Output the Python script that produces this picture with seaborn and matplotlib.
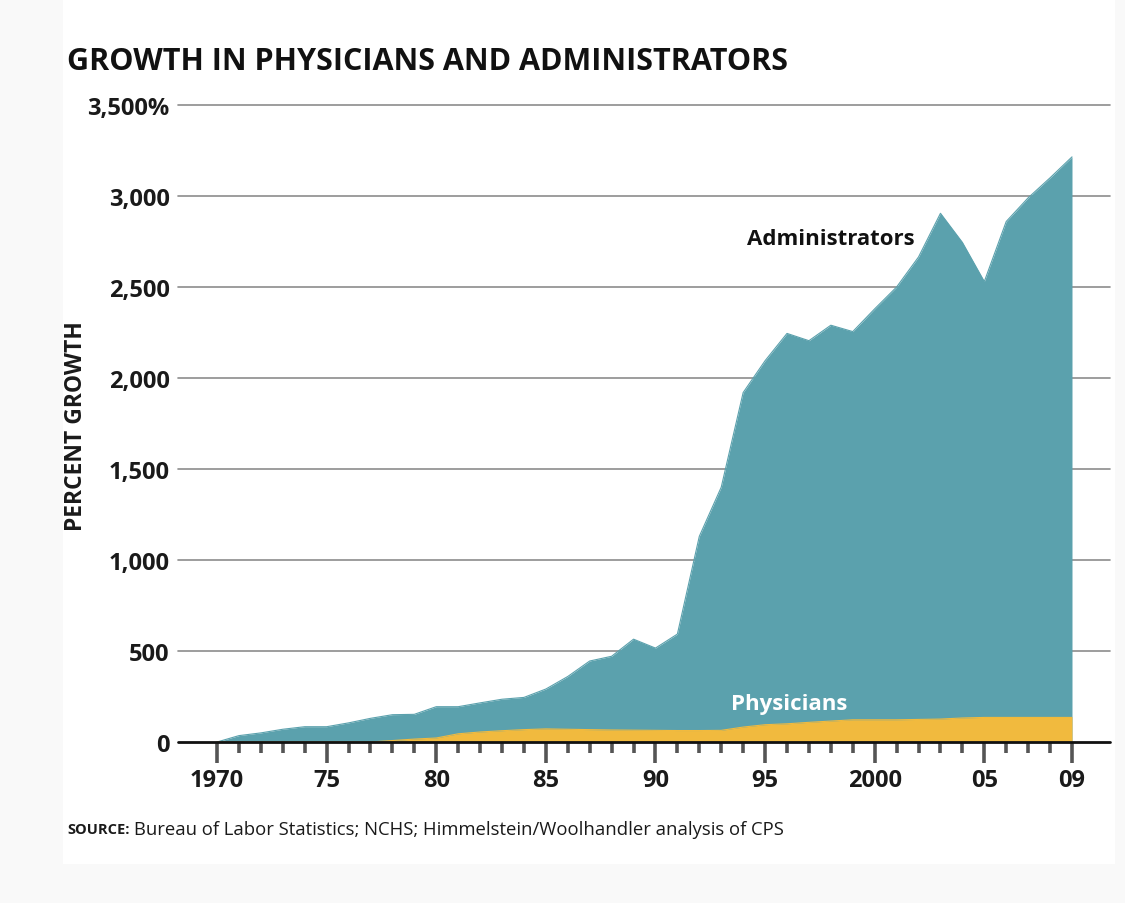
import matplotlib
matplotlib.use("Agg")
import matplotlib.pyplot as plt
import seaborn as sns
import pandas as pd
import numpy as np
from matplotlib.patches import Rectangle
from matplotlib.ticker import FixedLocator

# data (percent growth since 1970)
years = list(range(1970, 2010))
administrators = [0, 35, 50, 70, 84, 84, 105, 130, 150, 152,
                  194, 194, 215, 235, 245, 291, 360, 445, 471, 565,
                  516, 593, 1130, 1400, 1920, 2095, 2245, 2205, 2290, 2255,
                  2380, 2500, 2665, 2905, 2745, 2530, 2860, 2990, 3100, 3215]
physicians = [0, 0, 0, 0, 0, 0, 0, 0, 8, 16,
              22, 45, 55, 62, 68, 72, 70, 68, 66, 65,
              64, 63, 63, 64, 82, 95, 100, 108, 115, 122,
              122, 122, 124, 126, 132, 135, 135, 135, 135, 135]
ytick_vals = [0, 500, 1000, 1500, 2000, 2500, 3000, 3500]
ytick_labels = ["0", "500", "1,000", "1,500", "2,000", "2,500", "3,000", "3,500%"]
xtick_vals = [1970, 1975, 1980, 1985, 1990, 1995, 2000, 2005, 2009]
xtick_labels = ["1970", "75", "80", "85", "90", "95", "2000", "05", "09"]

df = pd.DataFrame({"year": years, "Administrators": administrators, "Physicians": physicians})

TEAL = "#5ba1ad"
GOLD = "#f1ba3e"

sns.set_style("white")
plt.rcParams["font.family"] = ["Open Sans", "DejaVu Sans"]

fig = plt.figure(figsize=(11.25, 9.04), dpi=100)
fig.patch.set_facecolor("#f9f9f9")
fig.patches.append(Rectangle((63 / 1125, 1 - 865 / 904), (1115 - 63) / 1125, 865 / 904,
                             transform=fig.transFigure, facecolor="white", edgecolor="none", zorder=-10))

ax = fig.add_axes([178 / 1125, 1 - 743 / 904, (1110 - 178) / 1125, (743 - 106) / 904])
ax.set_facecolor("none")

# outlines via seaborn, then fill the areas
sns.lineplot(data=df, x="year", y="Administrators", ax=ax, color=TEAL, lw=0.8, zorder=3)
sns.lineplot(data=df, x="year", y="Physicians", ax=ax, color=GOLD, lw=0.8, zorder=4)
ax.fill_between(df["year"], 0, df["Administrators"], color=TEAL, lw=0, zorder=3)
ax.fill_between(df["year"], 0, df["Physicians"], color=GOLD, lw=0, zorder=4)

ax.set_xlim(1970 - 39 / 21.92, 2009 + 38 / 21.92)
ax.set_ylim(0, 3500)

for v in ytick_vals[1:]:
    ax.axhline(v, color="#8c8c8c", lw=1.2, zorder=1, clip_on=False)
ax.axhline(0, color="#111111", lw=2, zorder=6, clip_on=False)

for s in ax.spines.values():
    s.set_visible(False)

ax.set_yticks(ytick_vals)
ax.set_yticklabels(ytick_labels, fontsize=17, fontweight="bold", color="#1a1a1a")
ax.tick_params(axis="y", length=0, pad=6)

ax.set_xticks(xtick_vals)
ax.set_xticklabels(xtick_labels, fontsize=17, fontweight="bold", color="#1a1a1a")
ax.xaxis.set_minor_locator(FixedLocator([y for y in years if y not in xtick_vals]))
ax.tick_params(axis="x", which="both", bottom=True)
ax.tick_params(axis="x", which="major", length=15, width=2.6, color="#555555", direction="out", pad=4)
ax.tick_params(axis="x", which="minor", length=8, width=2.6, color="#555555", direction="out")
ax.set_xlabel("")
ax.set_ylabel("PERCENT GROWTH", fontsize=16.5, fontweight="bold", color="#1a1a1a")
ax.yaxis.set_label_coords((76 - 178) / 932, (743 - 426) / 637)
ax.yaxis.label.set_va("center")

ax.text(1998.0, 2765, "Administrators", fontsize=16, fontweight="bold", color="#111111",
        ha="center", va="center", zorder=7)
ax.text(1996.1, 212, "Physicians", fontsize=16, fontweight="bold", color="white",
        ha="center", va="center", zorder=7)

fig.text(67 / 1125, 1 - 62 / 904, "GROWTH IN PHYSICIANS AND ADMINISTRATORS",
         fontsize=22, fontweight="bold", color="#111111", ha="left", va="center")

src1 = fig.text(67 / 1125, 1 - 830 / 904, "SOURCE:", fontsize=10.5, fontweight="bold",
                color="#1a1a1a", ha="left", va="center")
fig.canvas.draw()
bb = src1.get_window_extent()
fig.text((bb.x1 + 5) / 1125, 1 - 830 / 904,
         "Bureau of Labor Statistics; NCHS; Himmelstein/Woolhandler analysis of CPS",
         fontsize=13.3, color="#1a1a1a", ha="left", va="center")

fig.savefig("out.png", dpi=100, facecolor=fig.get_facecolor())
